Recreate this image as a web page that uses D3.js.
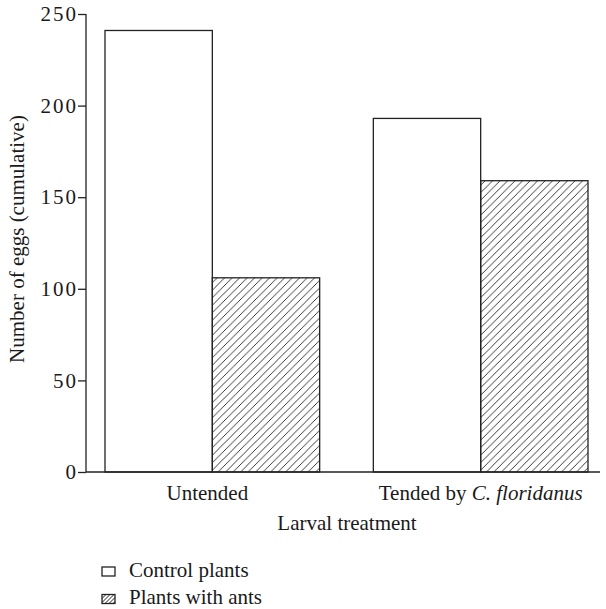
<!DOCTYPE html>
<html>
<head>
<meta charset="utf-8">
<script src="https://cdn.jsdelivr.net/npm/d3@7"></script>
<style>
  html, body { margin: 0; padding: 0; background: #fff; }
  svg text { font-family: "Liberation Serif", "DejaVu Serif", serif; fill: #1a1a1a; }
</style>
</head>
<body>
<svg id="chart" width="606" height="609"></svg>
<script>
// Cumulative egg counts per larval treatment
const categories = ["Untended", "Tended"];
const series = ["Control plants", "Plants with ants"];
const controlValues = [241, 193];
const antValues = [106, 159];
const yTicks = [0, 50, 100, 150, 200, 250];

const svg = d3.select("#chart");
const ink = "#222";
const fontSize = 21;

const y = d3.scaleLinear().domain([0, 250]).range([472, 14]);
const x0 = d3.scaleBand().domain(categories).range([105, 588]).paddingInner(0.2).paddingOuter(0);
const x1 = d3.scaleBand().domain(series).range([0, x0.bandwidth()]).padding(0);

// Diagonal hatch for the ant-treatment bars
const defs = svg.append("defs");
const pat = defs.append("pattern")
  .attr("id", "hatch")
  .attr("patternUnits", "userSpaceOnUse")
  .attr("width", 7.5).attr("height", 7.5);
pat.append("path")
  .attr("d", "M-1,8.5 L8.5,-1 M-2,1.5 L1.5,-2 M6,9.5 L9.5,6")
  .attr("stroke", ink).attr("stroke-width", 0.9).attr("fill", "none");

const legendPat = defs.append("pattern")
  .attr("id", "hatchSmall")
  .attr("patternUnits", "userSpaceOnUse")
  .attr("width", 4).attr("height", 4);
legendPat.append("path")
  .attr("d", "M-1,5 L5,-1")
  .attr("stroke", ink).attr("stroke-width", 1).attr("fill", "none");

const fills = { "Control plants": "#fff", "Plants with ants": "url(#hatch)" };
const legendFills = { "Control plants": "#fff", "Plants with ants": "url(#hatchSmall)" };

const rows = categories.map((c, i) => ({
  cat: c,
  vals: [
    { s: series[0], v: controlValues[i] },
    { s: series[1], v: antValues[i] }
  ]
}));

const groups = svg.append("g").selectAll("g").data(rows).join("g")
  .attr("transform", d => `translate(${x0(d.cat)},0)`);

groups.selectAll("rect").data(d => d.vals).join("rect")
  .attr("x", d => x1(d.s))
  .attr("y", d => y(d.v))
  .attr("width", x1.bandwidth())
  .attr("height", d => y(0) - y(d.v))
  .attr("fill", d => fills[d.s])
  .attr("stroke", ink)
  .attr("stroke-width", 1.3);

// Y axis
const yAxis = d3.axisLeft(y).tickValues(yTicks).tickSize(8).tickPadding(0);
const ya = svg.append("g").attr("transform", "translate(86,0)").call(yAxis);
ya.select(".domain").attr("stroke", ink).attr("stroke-width", 1.3).attr("d", "M0,14V472");
ya.selectAll(".tick line").attr("stroke", ink).attr("stroke-width", 1.3);
ya.selectAll(".tick text")
  .attr("font-size", fontSize)
  .attr("fill", "#1a1a1a")
  .attr("letter-spacing", 2)
  .style("font-family", '"Liberation Serif", serif');

// X axis baseline
svg.append("line")
  .attr("x1", 86).attr("x2", 600)
  .attr("y1", y(0)).attr("y2", y(0))
  .attr("stroke", ink).attr("stroke-width", 1.3);

// Category labels
const catLabel = svg.append("g").attr("font-size", fontSize).attr("text-anchor", "middle");
catLabel.append("text")
  .attr("x", x0("Untended") + x0.bandwidth() / 2 - 5).attr("y", 500)
  .text("Untended");
const t2 = catLabel.append("text")
  .attr("x", x0("Tended") + x0.bandwidth() / 2).attr("y", 500);
t2.append("tspan").text("Tended by ");
t2.append("tspan").attr("font-style", "italic").text("C. floridanus");

// Axis titles
svg.append("text")
  .attr("x", 347).attr("y", 530)
  .attr("text-anchor", "middle").attr("font-size", fontSize)
  .text("Larval treatment");

svg.append("text")
  .attr("transform", "translate(24,239) rotate(-90)")
  .attr("text-anchor", "middle").attr("font-size", fontSize)
  .text("Number of eggs (cumulative)");

// Legend
const legend = svg.append("g").selectAll("g").data(series).join("g")
  .attr("transform", (d, i) => `translate(102,${567 + i * 27.5})`);
legend.append("rect")
  .attr("width", 13).attr("height", 9)
  .attr("fill", d => legendFills[d])
  .attr("stroke", ink).attr("stroke-width", 1.3);
legend.append("text")
  .attr("x", 27).attr("y", 9.5)
  .attr("font-size", fontSize)
  .text(d => d);
</script>
</body>
</html>
